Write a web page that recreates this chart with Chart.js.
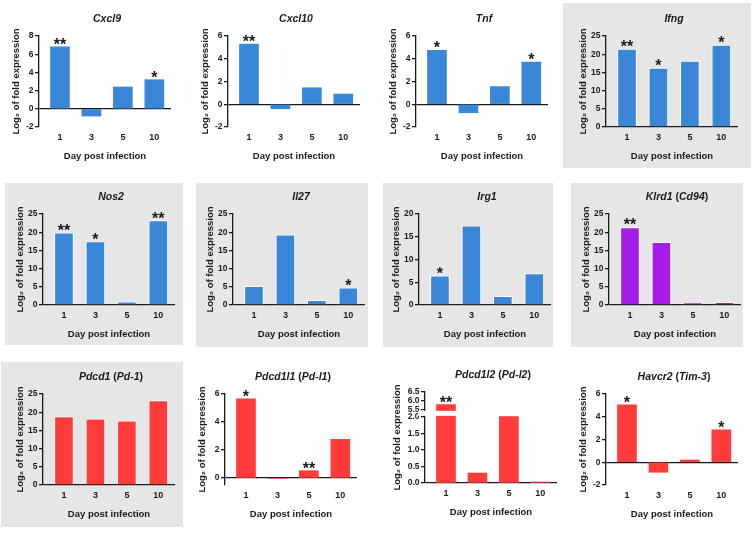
<!DOCTYPE html>
<html>
<head>
<meta charset="utf-8">
<script src="https://cdn.jsdelivr.net/npm/chart.js@4.4.1/dist/chart.umd.min.js"></script>
<style>
  html, body { margin: 0; padding: 0; background: #fff; }
  #fig { position: relative; width: 753px; height: 533px; overflow: hidden; }
  .bg { position: absolute; background: #e6e6e6; }
  .box { position: absolute; }
</style>
</head>
<body>
<div id="fig"></div>
<script>
// values (log2 fold expression per day)
const days = ["1", "3", "5", "10"];

const cxcl9 = [6.8, -0.8, 2.4, 3.2];
const cxcl10 = [5.3, -0.4, 1.45, 0.9];
const tnf = [4.75, -0.75, 1.55, 3.7];
const ifng = [21.4, 16.2, 18.1, 22.5];
const nos2 = [19.8, 17.4, 0.9, 23.2];
const il27 = [5.1, 19.3, 1.3, 4.7];
const irg1 = [6.4, 17.4, 1.9, 6.9];
const klrd1 = [21.3, 17.2, 0.6, 0.7];
const pdcd1 = [18.8, 18.2, 17.6, 23.2];
const pdcd1l1 = [5.65, -0.05, 0.52, 2.76];
const pdcd1l2 = [5.8, 0.3, 2.0, 0.03];
const havcr2 = [5.05, -0.88, 0.2, 2.85];

const cxcl9Stars = ["**", "", "", "*"];
const cxcl10Stars = ["**", "", "", ""];
const tnfStars = ["*", "", "", "*"];
const ifngStars = ["**", "*", "", "*"];
const nos2Stars = ["**", "*", "", "**"];
const il27Stars = ["", "", "", "*"];
const irg1Stars = ["*", "", "", ""];
const klrd1Stars = ["**", "", "", ""];
const pdcd1Stars = ["", "", "", ""];
const pdcd1l1Stars = ["*", "", "**", ""];
const pdcd1l2Stars = ["**", "", "", ""];
const havcr2Stars = ["*", "", "", "*"];

const ticksSmall = [-2, 0, 2, 4, 6];
const ticksCxcl9 = [-2, 0, 2, 4, 6, 8];
const ticks25 = [0, 5, 10, 15, 20, 25];
const ticks20 = [0, 5, 10, 15, 20];
const ticksPdl1 = [0, 2, 4, 6];
const ticksPdl2 = [0, 0.5, 1, 1.5, 2, 5.5, 6, 6.5];

const blue = "#3a87d8";
const purple = "#a51de6";
const red = "#ff3b3b";
const ink = "#1a1a1a";
const FONT = "'Liberation Sans', Arial, sans-serif";

// broken y axis for Pdcd1l2: 0-2 at the bottom, 5.5-6.5 on top
const l2Break = { low: [0, 2], high: [5.5, 6.5], lowFrac: 0.729, gapFrac: 0.073 };

class BrokenScale extends Chart.LinearScale {
  static id = "broken";
  static defaults = {};
  getPixelForValue(value) {
    const h = this.bottom - this.top;
    const lowH = h * l2Break.lowFrac, gapH = h * l2Break.gapFrac, highH = h - lowH - gapH;
    const [a, b] = l2Break.low, [c, d] = l2Break.high;
    if (value <= b) return this.bottom - (value - a) / (b - a) * lowH;
    if (value < c) return this.bottom - lowH - (value - b) / (c - b) * gapH;
    return this.bottom - lowH - gapH - (value - c) / (d - c) * highH;
  }
  getValueForPixel(pixel) {
    const h = this.bottom - this.top;
    const lowH = h * l2Break.lowFrac, gapH = h * l2Break.gapFrac, highH = h - lowH - gapH;
    const [a, b] = l2Break.low, [c, d] = l2Break.high;
    const off = this.bottom - pixel;
    if (off <= lowH) return a + off / lowH * (b - a);
    if (off <= lowH + gapH) return b + (off - lowH) / gapH * (c - b);
    return c + (off - lowH - gapH) / highH * (d - c);
  }
}
Chart.register(BrokenScale);

const starPlugin = {
  id: "stars",
  afterDatasetsDraw(chart, args, opts) {
    const marks = opts.marks || [];
    const { ctx, scales: { x, y } } = chart;
    const data = chart.data.datasets[0].data;
    ctx.save();
    ctx.font = "bold 16px " + FONT;
    ctx.fillStyle = ink;
    ctx.textAlign = "center";
    ctx.textBaseline = "alphabetic";
    marks.forEach((m, i) => {
      if (!m) return;
      const px = x.getPixelForValue(data[i].x);
      const py = y.getPixelForValue(Math.max(data[i].y, 0));
      ctx.fillText(m, px, py + 3);
    });
    ctx.restore();
  },
};

// gene names italic, brackets upright, centred over the plot area
const titlePlugin = {
  id: "panelTitle",
  afterDraw(chart, args, opts) {
    const { ctx, chartArea } = chart;
    const parts = opts.text.split(/([()])/).filter((s) => s);
    const fontOf = (s) => (s === "(" || s === ")" ? "bold " : "italic bold ") + "10.5px " + FONT;
    ctx.save();
    let total = 0;
    const widths = parts.map((s) => { ctx.font = fontOf(s); const w = ctx.measureText(s).width; total += w; return w; });
    let x = (chartArea.left + chartArea.right) / 2 + 2 - total / 2;
    const y = chartArea.top - 17;
    ctx.fillStyle = ink;
    ctx.textAlign = "left";
    ctx.textBaseline = "middle";
    parts.forEach((s, i) => {
      ctx.font = fontOf(s);
      ctx.fillText(s, x, y);
      x += widths[i];
    });
    ctx.restore();
  },
};

const gapPlugin = {
  id: "gap",
  afterDraw(chart) {
    const { ctx, scales: { y }, chartArea } = chart;
    const p1 = y.getPixelForValue(l2Break.high[0]);
    const p2 = y.getPixelForValue(l2Break.low[1]);
    ctx.save();
    ctx.fillStyle = "#fff";
    ctx.fillRect(chartArea.left - 7, p1 + 0.8, chartArea.right - chartArea.left + 10, p2 - p1 - 1.6);
    ctx.restore();
  },
};

const panels = [
  { title: "Cxcl9", values: cxcl9, stars: cxcl9Stars, ticks: ticksCxcl9, color: blue, pos: [39, 36] },
  { title: "Cxcl10", values: cxcl10, stars: cxcl10Stars, ticks: ticksSmall, color: blue, pos: [228, 36] },
  { title: "Tnf", values: tnf, stars: tnfStars, ticks: ticksSmall, color: blue, pos: [416, 36] },
  { title: "Ifng", values: ifng, stars: ifngStars, ticks: ticks25, color: blue, pos: [606, 36], bg: [563, 3, 188, 165] },
  { title: "Nos2", values: nos2, stars: nos2Stars, ticks: ticks25, color: blue, pos: [43, 214], bg: [5, 183, 178, 162] },
  { title: "Il27", values: il27, stars: il27Stars, ticks: ticks25, color: blue, pos: [233, 214], bg: [196, 183, 172, 164] },
  { title: "Irg1", values: irg1, stars: irg1Stars, ticks: ticks20, color: blue, pos: [419, 214], bg: [383, 183, 170, 164] },
  { title: "Klrd1 (Cd94)", values: klrd1, stars: klrd1Stars, ticks: ticks25, color: purple, pos: [609, 214], bg: [571, 183, 172, 164] },
  { title: "Pdcd1 (Pd-1)", values: pdcd1, stars: pdcd1Stars, ticks: ticks25, color: red, pos: [43, 394], bg: [1, 362, 182, 165] },
  { title: "Pdcd1l1 (Pd-l1)", values: pdcd1l1, stars: pdcd1l1Stars, ticks: ticksPdl1, min: -0.5, color: red, pos: [225, 394] },
  { title: "Pdcd1l2 (Pd-l2)", values: pdcd1l2, stars: pdcd1l2Stars, ticks: ticksPdl2, dec: 1, broken: true, padL: 35, color: red, pos: [425, 392] },
  { title: "Havcr2 (Tim-3)", values: havcr2, stars: havcr2Stars, ticks: ticksSmall, color: red, pos: [606, 394] },
];

const fig = document.getElementById("fig");

panels.forEach((p) => {
  if (!p.bg) return;
  const d = document.createElement("div");
  d.className = "bg";
  d.style.left = p.bg[0] + "px";
  d.style.top = p.bg[1] + "px";
  d.style.width = p.bg[2] + "px";
  d.style.height = p.bg[3] + "px";
  fig.appendChild(d);
});

const PLOT_W = 132, PLOT_H = 91, TOP_H = 23, BOTTOM_H = 35;

panels.forEach((p) => {
  const [x0, top] = p.pos;
  const padL = p.padL || 30;
  const box = document.createElement("div");
  box.className = "box";
  box.style.left = (x0 - padL) + "px";
  box.style.top = (top - TOP_H) + "px";
  box.style.width = (padL + PLOT_W + 8) + "px";
  box.style.height = (TOP_H + PLOT_H + BOTTOM_H) + "px";
  const canvas = document.createElement("canvas");
  box.appendChild(canvas);
  fig.appendChild(box);

  new Chart(canvas, {
    type: "bar",
    data: {
      datasets: [{
        data: p.values.map((v, i) => ({ x: i + 1, y: v })),
        backgroundColor: p.color,
        borderColor: "#ffffff",
        borderWidth: p.bg ? 1 : 0,
        borderSkipped: "start",
        barThickness: 19,
      }],
    },
    options: {
      responsive: true,
      maintainAspectRatio: false,
      animation: false,
      layout: { padding: { left: 0, right: 8, top: TOP_H, bottom: 0 } },
      plugins: {
        legend: { display: false },
        tooltip: { enabled: false },
        title: { display: false },
        panelTitle: { text: p.title },
        stars: { marks: p.stars },
      },
      scales: {
        x: {
          type: "linear",
          offset: false,
          min: 0.333,
          max: 4.53,
          afterBuildTicks: (s) => { s.ticks = days.map((d, i) => ({ value: i + 1 })); },
          afterFit: (s) => { s.height = BOTTOM_H; },
          ticks: {
            autoSkip: false,
            maxRotation: 0,
            padding: 5,
            color: ink,
            font: { family: FONT, size: 9, weight: "bold" },
            callback: (v, i) => days[i],
          },
          grid: { display: false, drawTicks: false, offset: false },
          border: { display: false },
          title: {
            display: true,
            text: "Day post infection",
            color: ink,
            font: { family: FONT, size: 9.5, weight: "bold", lineHeight: 1.2 },
            padding: 0,
          },
        },
        y: {
          type: p.broken ? "broken" : "linear",
          min: p.min !== undefined ? p.min : p.ticks[0],
          max: p.ticks[p.ticks.length - 1],
          z: 1,
          afterBuildTicks: (s) => { s.ticks = p.ticks.map((v) => ({ value: v })); },
          afterFit: (s) => { s.width = padL; },
          ticks: {
            autoSkip: false,
            padding: 1.5,
            color: ink,
            font: { family: FONT, size: 8.5, weight: "bold" },
            callback: (v) => Number(v).toFixed(p.dec || 0),
          },
          grid: {
            color: (c) => (c.tick && c.tick.value === 0 ? ink : "rgba(0,0,0,0)"),
            tickColor: ink,
            lineWidth: 1.3,
            tickLength: 4,
          },
          border: { display: true, color: ink, width: 1.3 },
          title: {
            display: true,
            text: "Log₂ of fold expression",
            color: ink,
            font: { family: FONT, size: 9.5, weight: "bold", lineHeight: 1.2 },
            padding: { top: 2, bottom: 0 },
          },
        },
      },
    },
    plugins: p.broken ? [starPlugin, titlePlugin, gapPlugin] : [starPlugin, titlePlugin],
  });
});
</script>
</body>
</html>
